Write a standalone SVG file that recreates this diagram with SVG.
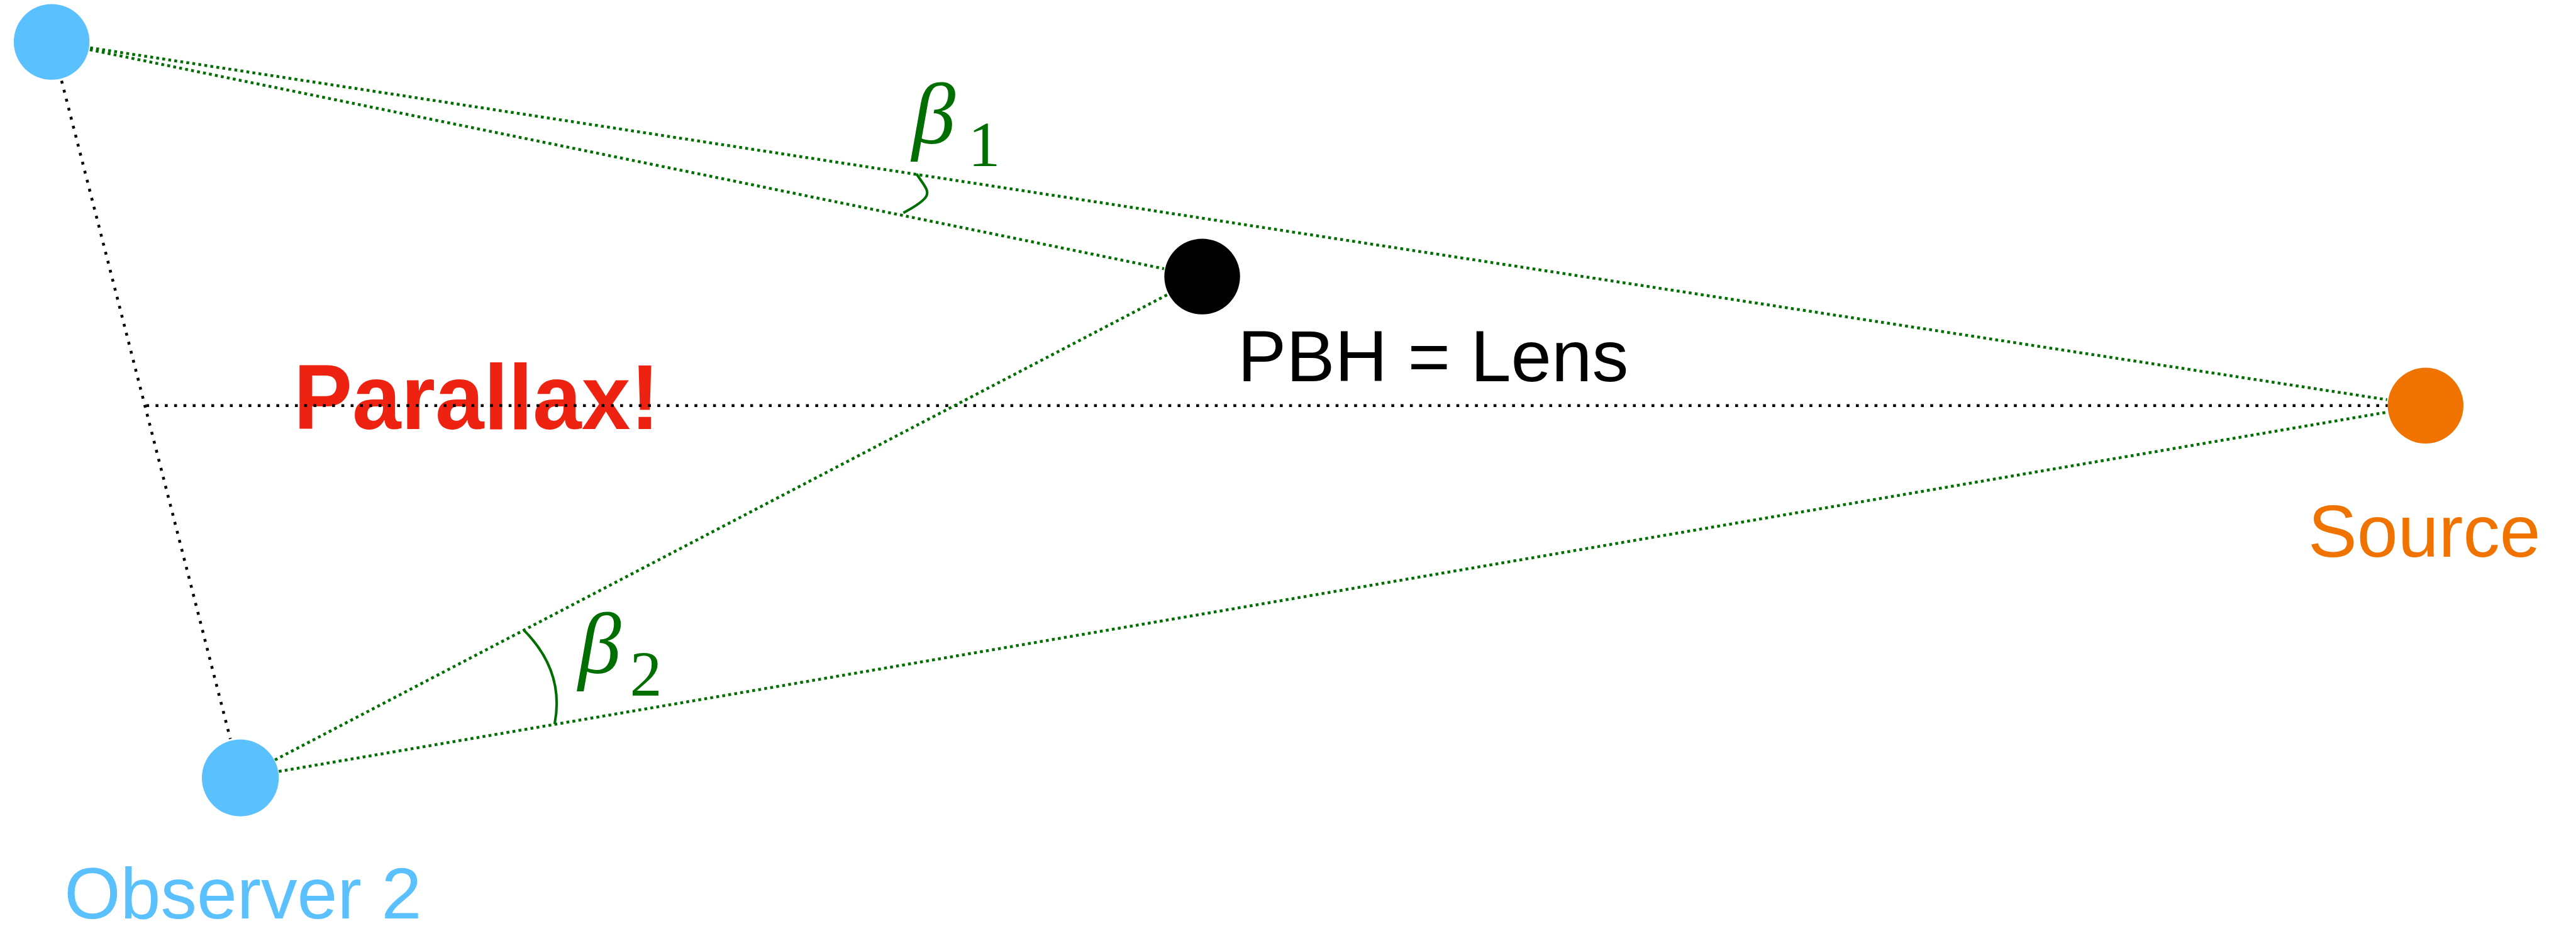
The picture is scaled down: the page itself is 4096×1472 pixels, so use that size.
<svg xmlns="http://www.w3.org/2000/svg" width="4096" height="1472" viewBox="0 0 4096 1472">
<style>
.blk{stroke:#000;stroke-width:5;stroke-dasharray:5 11.2;fill:none}
.grn{stroke:#006E00;stroke-width:5;stroke-dasharray:5 5.6;fill:none}
.arc{stroke:#006E00;stroke-width:4.5;fill:none}
.sans{font-family:"Liberation Sans",Arial,sans-serif}
.greek{font-family:"Liberation Serif","Times New Roman",serif;font-style:italic;fill:#006E00}
.sub{font-family:"Liberation Serif","Times New Roman",serif;fill:#006E00}
</style>
<rect width="4096" height="1472" fill="#fff"/>
<g transform="scale(0.912)">
<g id="labels-bg">
<text id="parallax" class="sans" x="512" y="748" font-size="160" font-weight="bold" fill="#EE2211" textLength="638" lengthAdjust="spacingAndGlyphs">Parallax!</text>
</g>
<g id="connectors">
<line class="blk" x1="107.4" y1="140.8" x2="401.6" y2="1288"/>
<line class="blk" x1="255" y1="707" x2="4163" y2="707"/>
<line class="grn" x1="157.2" y1="83.3" x2="4161.8" y2="696.7"/>
<line class="grn" x1="156.6" y1="86.6" x2="2029.4" y2="468.4"/>
<line class="grn" x1="479.3" y1="1324.6" x2="2035.7" y2="513.4"/>
<line class="grn" x1="486" y1="1344.6" x2="4162" y2="718.4"/>
<path class="arc" d="M1598,303 C1618,335 1635,339 1575,371"/>
<path class="arc" d="M913,1098 Q985,1170 967,1262"/>
</g>
<g id="observer1"><circle cx="90" cy="73" r="66" fill="#5AC1FE"/></g>
<g id="lens">
<circle cx="2096" cy="482" r="66" fill="#000"/>
<text class="sans" x="2158" y="665" font-size="127" fill="#000">PBH = Lens</text>
</g>
<g id="source">
<circle cx="4229" cy="707" r="66" fill="#F07300"/>
<text class="sans" x="4024" y="970" font-size="128" fill="#F07300">Source</text>
</g>
<g id="observer2">
<circle cx="419" cy="1356" r="67" fill="#5AC1FE"/>
<text class="sans" x="112" y="1601" font-size="126" fill="#5AC1FE">Observer 2</text>
</g>
<g id="beta1">
<text class="greek" x="1590" y="250" font-size="152">β</text>
<text class="sub" x="1688" y="289" font-size="112">1</text>
</g>
<g id="beta2">
<text class="greek" x="1008" y="1173" font-size="150">β</text>
<text class="sub" x="1098" y="1213" font-size="112">2</text>
</g>
</g>
</svg>
